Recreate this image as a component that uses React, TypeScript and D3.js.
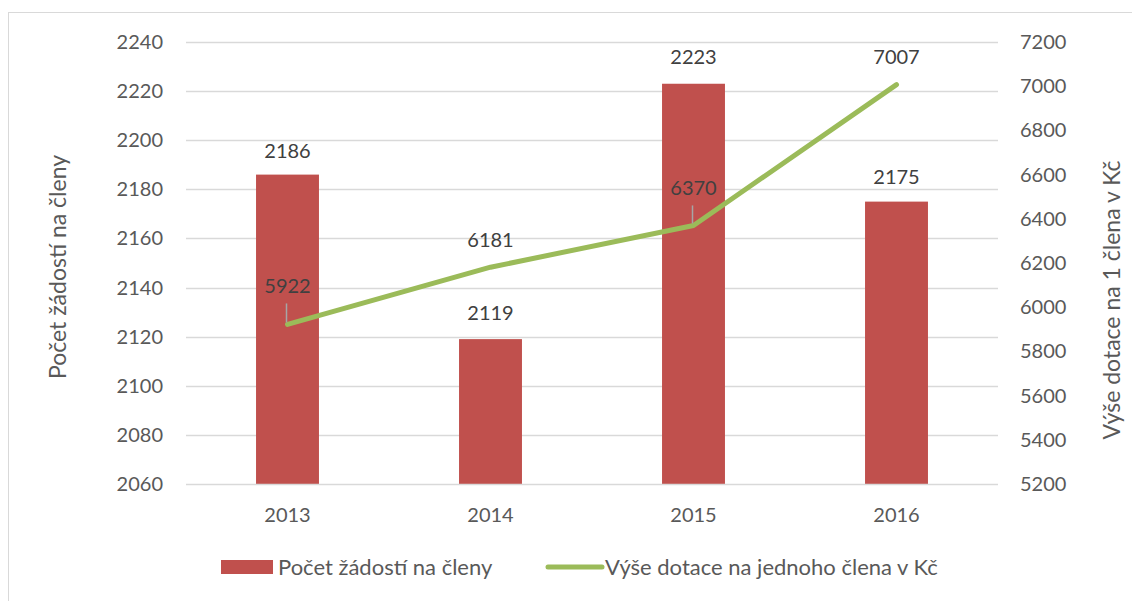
import React, { useEffect, useRef } from 'react';
import * as d3 from 'd3';

const years = ['2013', '2014', '2015', '2016'];
const requests = [2186, 2119, 2223, 2175];
const subsidy = [5922, 6181, 6370, 7007];
const leftTicks = [2060, 2080, 2100, 2120, 2140, 2160, 2180, 2200, 2220, 2240];
const rightTicks = [5200, 5400, 5600, 5800, 6000, 6200, 6400, 6600, 6800, 7000, 7200];
// label offsets above marks (px); some labels in the original were dragged off with a leader line
const barLabelOffset = [24, 26, 27, 25];
const lineLabelOffset = [38, 27, 37, 28];
const lineLeader = [true, false, true, false];

const W = 1132;
const H = 601;
const FONT = 'Lato, "Open Sans", sans-serif';
const TEXT = '#595959';

const App = () => {
  const svgRef = useRef<SVGSVGElement>(null);

  useEffect(() => {
    const svg = d3.select(svgRef.current);
    svg.selectAll('*').remove();

    const margin = { top: 42, right: 134, bottom: 117, left: 186 };
    const innerW = W - margin.left - margin.right;
    const innerH = H - margin.top - margin.bottom;

    // chart border (only left/top visible in the crop)
    svg
      .append('rect')
      .attr('x', 8.5)
      .attr('y', 12.5)
      .attr('width', W + 10)
      .attr('height', H + 10)
      .attr('fill', 'white')
      .attr('stroke', '#d9d9d9');

    const g = svg.append('g').attr('transform', `translate(${margin.left},${margin.top})`);

    const x = d3.scaleBand().domain(years).range([0, innerW]).paddingInner(0.69).paddingOuter(0.345);
    const xc = (d: string) => (x(d) as number) + x.bandwidth() / 2;
    const yL = d3.scaleLinear().domain([2060, 2240]).range([innerH, 0]);
    const yR = d3.scaleLinear().domain([5200, 7200]).range([innerH, 0]);

    // gridlines
    g.append('g')
      .selectAll('line')
      .data(leftTicks.slice(1))
      .join('line')
      .attr('x1', 0)
      .attr('x2', innerW)
      .attr('y1', d => Math.round(yL(d)) + 0.5)
      .attr('y2', d => Math.round(yL(d)) + 0.5)
      .attr('stroke', '#d9d9d9')
      .attr('stroke-width', 1.5);

    // left ticks
    g.append('g')
      .selectAll('text')
      .data(leftTicks)
      .join('text')
      .attr('x', -23)
      .attr('y', d => yL(d))
      .attr('dy', '0.35em')
      .attr('text-anchor', 'end')
      .attr('font-family', FONT)
      .attr('font-size', 20)
      .attr('fill', TEXT)
      .text(d => d);

    // right ticks
    g.append('g')
      .selectAll('text')
      .data(rightTicks)
      .join('text')
      .attr('x', innerW + 22)
      .attr('y', d => yR(d))
      .attr('dy', '0.35em')
      .attr('text-anchor', 'start')
      .attr('font-family', FONT)
      .attr('font-size', 20)
      .attr('fill', TEXT)
      .text(d => d);

    // bars
    g.append('g')
      .selectAll('rect')
      .data(requests)
      .join('rect')
      .attr('x', (d, i) => x(years[i]) as number)
      .attr('y', d => yL(d))
      .attr('width', x.bandwidth())
      .attr('height', d => innerH - yL(d))
      .attr('fill', '#c0504d');

    // x axis line
    g.append('line')
      .attr('x1', 0)
      .attr('x2', innerW)
      .attr('y1', innerH + 0.5)
      .attr('y2', innerH + 0.5)
      .attr('stroke', '#d9d9d9')
      .attr('stroke-width', 1.5);

    // x labels
    g.append('g')
      .selectAll('text')
      .data(years)
      .join('text')
      .attr('x', d => xc(d))
      .attr('y', innerH + 31)
      .attr('dy', '0.35em')
      .attr('text-anchor', 'middle')
      .attr('font-family', FONT)
      .attr('font-size', 20)
      .attr('fill', TEXT)
      .text(d => d);

    // bar labels
    g.append('g')
      .selectAll('text')
      .data(requests)
      .join('text')
      .attr('x', (d, i) => xc(years[i]))
      .attr('y', (d, i) => yL(d) - barLabelOffset[i])
      .attr('dy', '0.35em')
      .attr('text-anchor', 'middle')
      .attr('font-family', FONT)
      .attr('font-size', 20)
      .attr('fill', '#404040')
      .text(d => d);

    // line
    const line = d3
      .line<number>()
      .x((d, i) => xc(years[i]))
      .y(d => yR(d));

    g.append('path')
      .datum(subsidy)
      .attr('d', line)
      .attr('fill', 'none')
      .attr('stroke', '#9bbb59')
      .attr('stroke-width', 5)
      .attr('stroke-linecap', 'round')
      .attr('stroke-linejoin', 'round');

    // leader lines
    g.append('g')
      .selectAll('line')
      .data(subsidy.filter((d, i) => lineLeader[i]))
      .join('line')
      .attr('x1', d => xc(years[subsidy.indexOf(d)]) - 1)
      .attr('x2', d => xc(years[subsidy.indexOf(d)]) - 1)
      .attr('y1', d => yR(d) - lineLabelOffset[subsidy.indexOf(d)] + 17)
      .attr('y2', d => yR(d) - 2)
      .attr('stroke', '#a6a6a6')
      .attr('stroke-width', 1.5);

    // line labels
    g.append('g')
      .selectAll('text')
      .data(subsidy)
      .join('text')
      .attr('x', (d, i) => xc(years[i]))
      .attr('y', (d, i) => yR(d) - lineLabelOffset[i])
      .attr('dy', '0.35em')
      .attr('text-anchor', 'middle')
      .attr('font-family', FONT)
      .attr('font-size', 20)
      .attr('fill', '#404040')
      .text(d => d);

    // axis titles
    svg
      .append('text')
      .attr('transform', `translate(58,267) rotate(-90)`)
      .attr('dy', '0.35em')
      .attr('text-anchor', 'middle')
      .attr('font-family', FONT)
      .attr('font-size', 23)
      .attr('fill', TEXT)
      .text('Počet žádostí na členy');

    svg
      .append('text')
      .attr('transform', `translate(1112,300) rotate(-90)`)
      .attr('dy', '0.35em')
      .attr('text-anchor', 'middle')
      .attr('font-family', FONT)
      .attr('font-size', 23)
      .attr('fill', TEXT)
      .text('Výše dotace na 1 člena v Kč');

    // legend
    const lg = svg.append('g').attr('transform', 'translate(0,567)');
    lg.append('rect').attr('x', 221).attr('y', -7).attr('width', 52).attr('height', 14).attr('fill', '#c0504d');
    lg.append('text')
      .attr('x', 278)
      .attr('dy', '0.35em')
      .attr('font-family', FONT)
      .attr('font-size', 22)
      .attr('fill', TEXT)
      .text('Počet žádostí na členy');
    lg.append('line')
      .attr('x1', 548)
      .attr('x2', 602)
      .attr('y1', 0)
      .attr('y2', 0)
      .attr('stroke', '#9bbb59')
      .attr('stroke-width', 5)
      .attr('stroke-linecap', 'round');
    lg.append('text')
      .attr('x', 605)
      .attr('dy', '0.35em')
      .attr('font-family', FONT)
      .attr('font-size', 22)
      .attr('fill', TEXT)
      .text('Výše dotace na jednoho člena v Kč');
  }, []);

  return (
    <svg
      ref={svgRef}
      width={W}
      height={H}
      style={{ position: 'absolute', left: 0, top: 0, display: 'block' }}
    />
  );
};

export default App;
